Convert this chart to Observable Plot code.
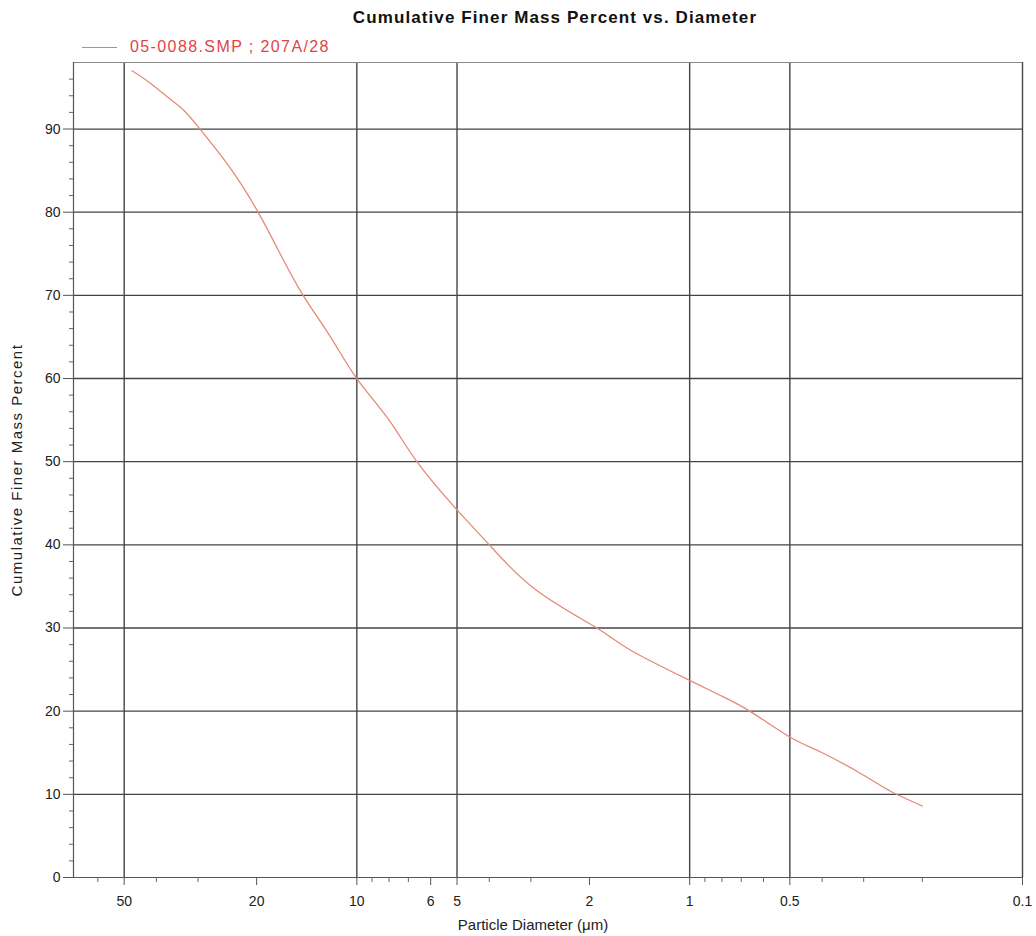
<!DOCTYPE html>
<html><head><meta charset="utf-8">
<script src="https://cdn.jsdelivr.net/npm/d3@7"></script>
<script src="https://cdn.jsdelivr.net/npm/@observablehq/plot@0.6"></script>
<style>
body{margin:0;background:#fff;font-family:"Liberation Sans",Arial,sans-serif;}
#wrap{position:relative;width:1036px;height:936px;overflow:hidden;}
#title{position:absolute;top:8px;left:0;width:1110px;text-align:center;font-weight:bold;font-size:17px;letter-spacing:1.1px;color:#111;}
#legend{position:absolute;top:38px;left:82px;display:flex;align-items:center;font-size:16px;letter-spacing:1.4px;color:#e04545;}
#legend .sw{width:35px;height:0;border-top:1px solid #999;margin-right:13px;}
#chart{position:absolute;top:56px;left:0;}
</style></head>
<body><div id="wrap">
<div id="title">Cumulative Finer Mass Percent vs. Diameter</div>
<div id="legend"><span class="sw"></span><span id="lt"></span></div>
<div id="chart"></div>
</div>
<script>
const seriesLabel = "05-0088.SMP ; 207A/28";
const diameter = [47.4, 42, 36.4, 33, 29.6, 24, 19.8, 17, 14.5, 12, 10, 8, 6.6, 5, 4, 2.9, 1.9, 1.5, 1, 0.8, 0.66, 0.5, 0.4, 0.3, 0.25, 0.2];
const finerPct = [97.0, 95.6, 93.6, 92.2, 90, 85.3, 80, 75, 70, 65, 60, 55, 50, 44.2, 40, 34.6, 30, 27.3, 23.7, 21.8, 20, 16.9, 15, 12.3, 10.4, 8.6];
const xMajorTicks = [50, 20, 10, 6, 5, 2, 1, 0.5, 0.1];
const xMajorLabels = ["50", "20", "10", "6", "5", "2", "1", "0.5", "0.1"];
const xMinorTicks = [60, 40, 30, 9, 8, 7, 4, 3, 0.9, 0.8, 0.7, 0.6, 0.4, 0.3, 0.2];
const xGridLines = [50, 10, 5, 1, 0.5, 0.1];
const yMajorTicks = [0, 10, 20, 30, 40, 50, 60, 70, 80, 90];
const yMinorTicks = [2,4,6,8,12,14,16,18,22,24,26,28,32,34,36,38,42,44,46,48,52,54,56,58,62,64,66,68,72,74,76,78,82,84,86,88,92,94,96];
const xTitle = "Particle Diameter (μm)";
const yTitle = "Cumulative Finer Mass Percent";

document.getElementById("lt").textContent = seriesLabel;
const rows = diameter.map((d, i) => ({d, p: finerPct[i]}));
const grid = "#444";

const chart = Plot.plot({
  width: 1036, height: 880,
  marginLeft: 73, marginRight: 14, marginTop: 6, marginBottom: 59,
  style: {fontFamily: "'Liberation Sans', Arial, sans-serif", fontSize: "14px", color: "#222", background: "#fff"},
  x: {type: "log", domain: [71, 0.1]},
  y: {domain: [0, 98]},
  marks: [
    Plot.ruleY(yMajorTicks.slice(1), {stroke: grid, strokeWidth: 1.3}),
    Plot.ruleX(xGridLines, {stroke: grid, strokeWidth: 1.4}),
    Plot.ruleY([98], {stroke: "#8a8a8a", strokeWidth: 1.2}),
    Plot.ruleX([71], {stroke: "#555", strokeWidth: 1.2}),
    Plot.ruleY([0], {stroke: "#555", strokeWidth: 1.2}),
    Plot.axisY({ticks: yMinorTicks, tickSize: 4, fill: "none", stroke: "#666"}),
    Plot.axisY({ticks: yMajorTicks, tickSize: 10, tickPadding: 3, stroke: "#555", fontSize: 14, letterSpacing: 1,
      label: yTitle, labelAnchor: "center", labelOffset: 62, labelArrow: "none"}),
    Plot.axisX({ticks: xMinorTicks, tickSize: 5, fill: "none", stroke: "#666"}),
    Plot.axisX({ticks: xMajorTicks, tickSize: 8, fill: "none", stroke: "#555"}),
    Plot.text(xMajorTicks, {x: d => d, text: d => xMajorLabels[xMajorTicks.indexOf(d)],
      frameAnchor: "bottom", dy: 28, fontSize: 14, fill: "#222"}),
    Plot.text([xTitle], {text: d => d, frameAnchor: "bottom", dy: 52, dx: -15, fontSize: 15, fill: "#222"}),
    Plot.line(rows, {x: "d", y: "p", stroke: "#e48a78", strokeWidth: 1.3, curve: "natural"})
  ]
});
document.getElementById("chart").appendChild(chart);
// widen the y-axis title slightly to match the scanned reference
chart.querySelectorAll("text").forEach(t => { if (t.textContent === yTitle) { t.style.fontSize = "15px"; t.style.letterSpacing = "1.5px"; } });
</script>
</body></html>
